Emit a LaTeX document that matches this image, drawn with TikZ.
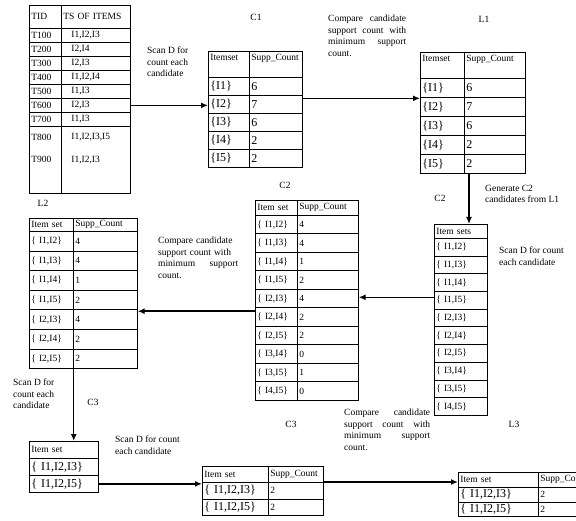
\documentclass[tikz,border=0pt]{standalone}
\usepackage{fontspec}
\setmainfont{Liberation Serif}
\usetikzlibrary{arrows.meta,positioning}

\begin{document}
\begin{tikzpicture}[x=1pt,y=-1pt,font=\fontsize{9.5}{11.5}\selectfont,
    cell/.style 2 args={draw,line width=.7pt,anchor=north west,inner xsep=2pt,inner ysep=0pt,
      text width=#1,minimum height=#2,align=left},
    tophead/.style={text height=8pt,text depth=15pt},
    big/.style={font=\fontsize{12}{13}\selectfont},
    flow/.style={-{Latex[length=7pt,width=6pt]},line width=1.5pt},
    note/.style={align=left,inner sep=0pt,anchor=north west}]
  \useasboundingbox (0,0) rectangle (576,521);
  \clip (0,0) rectangle (576,521);

  % database D
  \node[cell={28pt}{23pt}] (d-0-1) at (29,5) {TID};
  \node[cell={65pt}{23pt}] (d-0-2) at (61,5) {TS OF ITEMS};
  \foreach \t/\s [count=\k] in {T100/{I1,I2,I3},T200/{I2,I4},T300/{I2,I3},T400/{I1,I2,I4},
      T500/{I1,I3},T600/{I2,I3},T700/{I1,I3}}{
    \node[cell={28pt}{14pt}] (d-\k-1) at (29,{28+(\k-1)*14}) {\t};
    \node[cell={65pt}{14pt}] (d-\k-2) at (61,{28+(\k-1)*14}) {\hspace*{8pt}\s};
  }
  \node[cell={28pt}{22pt},draw=none] (d-8-1) at (29,126) {T800};
  \node[cell={65pt}{22pt},draw=none] (d-8-2) at (61,126) {\hspace*{8pt}I1,I2,I3,I5};
  \node[cell={28pt}{45pt},draw=none,text height=7pt,text depth=24pt] (d-9-1) at (29,148) {T900};
  \node[cell={65pt}{45pt},draw=none,text height=7pt,text depth=24pt] (d-9-2) at (61,148) {\hspace*{8pt}I1,I2,I3};
  \draw[line width=.7pt] (d-8-1.north west) -- (d-9-1.south west) -- (d-9-2.south east) -- (d-8-2.north east)
    (d-8-1.north east) -- (d-9-1.south east);

  % C1
  \node[cell={37pt}{26pt},tophead] (c1-0-1) at (208,51) {Itemset};
  \node[cell={49pt}{26pt},tophead] (c1-0-2) at (249,51) {Supp\_Count};
  \foreach \s/\n [count=\k] in {I1/6,I2/7,I3/6,I4/2,I5/2}{
    \node[cell={37pt}{18pt},big] (c1-\k-1) at (208,{77+(\k-1)*18}) {\{\s\}};
    \node[cell={49pt}{18pt},big] (c1-\k-2) at (249,{77+(\k-1)*18}) {\n};
  }

  % L1
  \node[cell={40pt}{26pt},tophead] (l1-0-1) at (420,52) {Itemset};
  \node[cell={57pt}{26pt},tophead] (l1-0-2) at (464,52) {Supp\_Count};
  \foreach \s/\n [count=\k] in {I1/6,I2/7,I3/6,I4/2,I5/2}{
    \node[cell={40pt}{19pt},big] (l1-\k-1) at (420,{78+(\k-1)*19}) {\{\s\}};
    \node[cell={57pt}{19pt},big] (l1-\k-2) at (464,{78+(\k-1)*19}) {\n};
  }

  % C2 (generated)
  \node[cell={49pt}{14pt}] (rc-0-1) at (434,224) {Item sets};
  \foreach \s [count=\k] in {{I1,I2},{I1,I3},{I1,I4},{I1,I5},{I2,I3},{I2,I4},{I2,I5},{I3,I4},{I3,I5},{I4,I5}}{
    \node[cell={49pt}{17.7pt}] (rc-\k-1) at (434,{238+(\k-1)*17.7}) {\{ \s\}};
  }

  % C2 (counted)
  \node[cell={38pt}{15pt}] (mc-0-1) at (255,200) {Item set};
  \node[cell={57pt}{15pt}] (mc-0-2) at (297,200) {Supp\_Count};
  \foreach \s/\n [count=\k] in {{I1,I2}/4,{I1,I3}/4,{I1,I4}/1,{I1,I5}/2,{I2,I3}/4,{I2,I4}/2,
      {I2,I5}/2,{I3,I4}/0,{I3,I5}/1,{I4,I5}/0}{
    \node[cell={38pt}{18.5pt}] (mc-\k-1) at (255,{215+(\k-1)*18.5}) {\{ \s\}};
    \node[cell={57pt}{18.5pt}] (mc-\k-2) at (297,{215+(\k-1)*18.5}) {\n};
  }

  % L2
  \node[cell={40pt}{13pt}] (l2-0-1) at (29,218) {Item set};
  \node[cell={60pt}{13pt}] (l2-0-2) at (73,218) {Supp\_Count};
  \foreach \s/\n [count=\k] in {{I1,I2}/4,{I1,I3}/4,{I1,I4}/1,{I1,I5}/2,{I2,I3}/4,{I2,I4}/2,{I2,I5}/2}{
    \node[cell={40pt}{19.6pt}] (l2-\k-1) at (29,{231+(\k-1)*19.6}) {\{ \s\}};
    \node[cell={60pt}{19.6pt}] (l2-\k-2) at (73,{231+(\k-1)*19.6}) {\n};
  }

  % C3 (generated)
  \node[cell={65pt}{17pt}] (lc-0-1) at (29,441) {Item set};
  \foreach \s [count=\k] in {{I1,I2,I3},{I1,I2,I5}}{
    \node[cell={65pt}{17pt},big] (lc-\k-1) at (29,{458+(\k-1)*17}) {\{ \s\}};
  }

  % C3 (counted)
  \node[cell={62pt}{16pt}] (tc-0-1) at (202,466) {Item set};
  \node[cell={51pt}{16pt}] (tc-0-2) at (268,466) {Supp\_Count};
  \foreach \s/\n [count=\k] in {{I1,I2,I3}/2,{I1,I2,I5}/2}{
    \node[cell={62pt}{16.5pt},big] (tc-\k-1) at (202,{482+(\k-1)*16.5}) {\{ \s\}};
    \node[cell={51pt}{16.5pt}] (tc-\k-2) at (268,{482+(\k-1)*16.5}) {\n};
  }

  % L3
  \node[cell={76pt}{15pt}] (l3-0-1) at (458,472) {Item set};
  \node[cell={78pt}{15pt}] (l3-0-2) at (538,472) {Supp\_Count};
  \foreach \s/\n [count=\k] in {{I1,I2,I3}/2,{I1,I2,I5}/2}{
    \node[cell={76pt}{14.5pt},big] (l3-\k-1) at (458,{487+(\k-1)*14.5}) {\{ \s\}};
    \node[cell={78pt}{14.5pt}] (l3-\k-2) at (538,{487+(\k-1)*14.5}) {\n};
  }

  % labels
  \node (lblc1) at (256,17) {C1};
  \node (lbll1) at (484,19) {L1};
  \node (lblc2m) at (285,185) {C2};
  \node (lblc2r) at (440,198) {C2};
  \node (lbll2) at (43,203) {L2};
  \node (lblc3l) at (93,402) {C3};
  \node (lblc3m) at (291,424) {C3};
  \node (lbll3) at (514,424) {L3};

  \node[note] (scan1) at (147,47) {Scan D for\\count each\\candidate};
  \node[note,text width=78pt] (cmp1) at (328,15)
    {Compare\hfill candidate\\support\hfill count\hfill with\\minimum\hfill support\\count.};
  \node[note] (gen) at (485,185) {Generate C2\\candidates from L1};
  \node[note] (scan2) at (499,247) {Scan D for count\\each candidate};
  \node[note,text width=80pt] (cmp2) at (158,237)
    {Compare candidate\\support count with\\minimum\hfill support\\count.};
  \node[note] (scan3) at (13,379) {Scan D for\\count each\\candidate};
  \node[note] (scan4) at (115,436) {Scan D for count\\each candidate};
  \node[note,text width=86pt] (cmp3) at (344,409)
    {Compare\hfill candidate\\support\hfill count\hfill with\\minimum\hfill support\\count.};

  % flow
  \draw[flow] (d-6-2.east) -- (d-6-2.east -| c1-2-1.west);
  \draw[flow] ([yshift=6pt]c1-2-2.east) -- ([yshift=6pt]c1-2-2.east -| l1-2-1.west);
  \draw[flow] ([xshift=5pt]l1-5-2.south west) -- ([xshift=5pt]l1-5-2.south west |- rc-0-1.north);
  \draw[flow] ([yshift=3pt]rc-4-1.west) -- ([yshift=3pt]rc-4-1.west -| mc-5-2.east);
  \draw[flow] ([yshift=-3pt]mc-5-1.south west) -- ([yshift=-3pt]mc-5-1.south west -| l2-5-2.east);
  \draw[flow] (l2-7-1.south east) -- (l2-7-1.south east |- lc-0-1.north);
  \draw[flow] (lc-2-1.east) -- (lc-2-1.east -| tc-1-1.west);
  \draw[flow] (tc-1-2.north east) -- (tc-1-2.north east -| l3-1-1.west);
\end{tikzpicture}
\end{document}
